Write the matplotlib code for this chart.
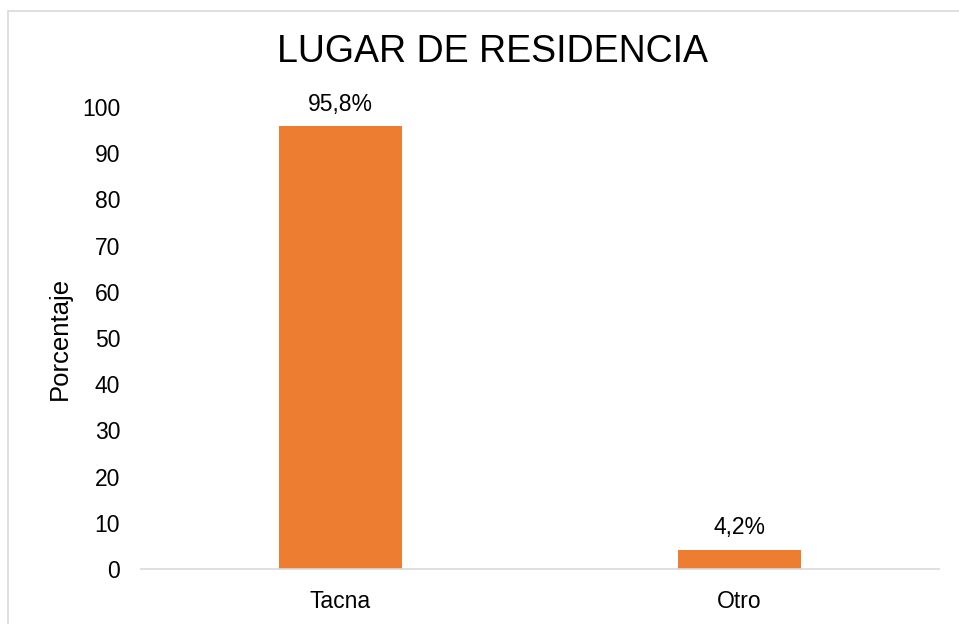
import matplotlib
matplotlib.use("Agg")
import matplotlib.pyplot as plt
from matplotlib.patches import Rectangle

categories = ["Tacna", "Otro"]
values = [95.8, 4.2]
labels = ["95,8%", "4,2%"]
yticks = [0, 10, 20, 30, 40, 50, 60, 70, 80, 90, 100]

plt.rcParams['font.family'] = ['Liberation Sans', 'DejaVu Sans']

fig = plt.figure(figsize=(9.59, 6.24), dpi=100)
fig.patches.append(Rectangle((8/959, -0.1), 1.0, 1 - 11/624 + 0.1, transform=fig.transFigure,
                             fill=False, edgecolor='#d9d9d9', linewidth=1.2))
ax = fig.add_axes([141/959, 1 - 569/624, 798/959, (569 - 107)/624])
x = list(range(len(categories)))
ax.bar(x, values, width=0.31, color='#ED7D31')
for xi, v, lab in zip(x, values, labels):
    ax.annotate(lab, (xi, v), xytext=(0, 11), textcoords='offset points',
                ha='center', va='baseline', fontsize=16.5, color='#000000')
ax.set_xlim(-0.5, 1.5)
ax.set_ylim(0, 100)
ax.set_yticks(yticks)
ax.set_xticks(x)
ax.set_xticklabels(categories)
ax.tick_params(axis='both', length=0, labelsize=16.5, colors='#000000')
ax.tick_params(axis='y', pad=15)
ax.tick_params(axis='x', pad=15)
for s in ['top', 'right', 'left']:
    ax.spines[s].set_visible(False)
ax.spines['bottom'].set_color('#d9d9d9')
ax.spines['bottom'].set_linewidth(1.2)
ax.set_ylabel('Porcentaje', fontsize=18.5, labelpad=7)
fig.text(492/959, 1 - 62/624, 'LUGAR DE RESIDENCIA', ha='center', va='baseline', fontsize=27)
fig.savefig('out.png', dpi=100)
